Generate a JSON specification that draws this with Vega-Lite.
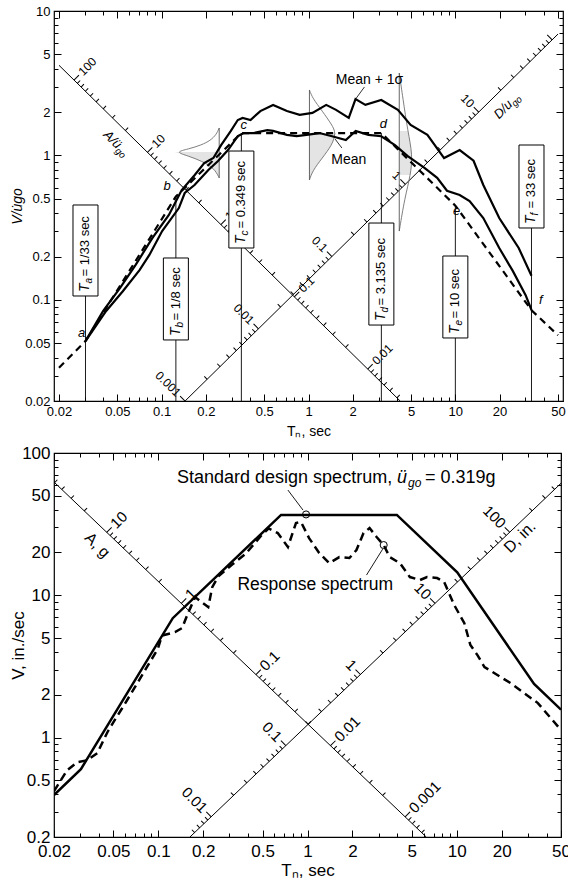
{
  "$schema": "https://vega.github.io/schema/vega-lite/v6.json",
  "padding": {"top": 4, "left": 9, "right": 0, "bottom": 0},
  "spacing": 4,
  "config": {
    "font": "Liberation Sans",
    "view": {"stroke": "black", "strokeWidth": 1.2},
    "mark": {"color": "black"},
    "text": {"color": "black", "font": "Liberation Sans"},
    "axis": {"grid": false, "domain": false, "tickColor": "black", "labelColor": "black", "titleColor": "black", "titleFontWeight": "normal", "labelOverlap": false, "labelFlush": false, "tickWidth": 1, "labelFont": "Liberation Sans", "titleFont": "Liberation Sans"}
  },
  "datasets": {
    "dlines": [
      {"p": "t", "T": 0.02, "V": 4.21, "T2": 4.21, "V2": 0.02},
      {"p": "t", "T": 0.1444, "V": 0.02, "T2": 50, "V2": 6.925},
      {"p": "b", "T": 0.02, "V": 62.5, "T2": 6.25, "V2": 0.2},
      {"p": "b", "T": 0.163, "V": 0.2, "T2": 50, "V2": 61.25}
    ],
    "diag": [
      {"p": "t", "k": "A", "m": 1, "v": [100, 10, 1, 0.1, 0.01]},
      {"p": "t", "k": "A", "m": 0, "v": [90, 80, 70, 60, 50, 40, 30, 20, 9, 8, 7, 6, 5, 4, 3, 2, 0.9, 0.8, 0.7, 0.6, 0.5, 0.4, 0.3, 0.2, 0.09, 0.08, 0.07, 0.06, 0.05, 0.04, 0.03, 0.02, 0.009, 0.008, 0.007, 0.006, 0.005, 0.004]},
      {"p": "t", "k": "D", "m": 1, "v": [0.001, 0.01, 0.1, 1, 10, 100]},
      {"p": "t", "k": "D", "m": 0, "v": [0.002, 0.003, 0.004, 0.005, 0.006, 0.007, 0.008, 0.009, 0.02, 0.03, 0.04, 0.05, 0.06, 0.07, 0.08, 0.09, 0.2, 0.3, 0.4, 0.5, 0.6, 0.7, 0.8, 0.9, 2, 3, 4, 5, 6, 7, 8, 9, 20, 30, 40, 50, 60, 70, 80, 90]},
      {"p": "b", "k": "A", "m": 1, "v": [10, 1, 0.1, 0.01, 0.001]},
      {"p": "b", "k": "A", "m": 0, "v": [50, 40, 30, 20, 9, 8, 7, 6, 5, 4, 3, 2, 0.9, 0.8, 0.7, 0.6, 0.5, 0.4, 0.3, 0.2, 0.09, 0.08, 0.07, 0.06, 0.05, 0.04, 0.03, 0.02, 0.009, 0.008, 0.007, 0.006, 0.005, 0.004, 0.003, 0.002, 0.0009, 0.0008, 0.0007, 0.0006]},
      {"p": "b", "k": "D", "m": 1, "v": [0.01, 0.1, 1, 10, 100]},
      {"p": "b", "k": "D", "m": 0, "v": [0.006, 0.007, 0.008, 0.009, 0.02, 0.03, 0.04, 0.05, 0.06, 0.07, 0.08, 0.09, 0.2, 0.3, 0.4, 0.5, 0.6, 0.7, 0.8, 0.9, 2, 3, 4, 5, 6, 7, 8, 9, 20, 30, 40, 50, 60, 70, 80, 90, 200, 300, 400]}
    ],
    "dlab": [
      {"p": "t", "k": "A", "v": 100, "lab": "100"},
      {"p": "t", "k": "A", "v": 10, "lab": "10"},
      {"p": "t", "k": "A", "v": 1, "lab": "1"},
      {"p": "t", "k": "A", "v": 0.1, "lab": "0.1"},
      {"p": "t", "k": "A", "v": 0.01, "lab": "0.01"},
      {"p": "t", "k": "D", "v": 0.001, "lab": "0.001"},
      {"p": "t", "k": "D", "v": 0.01, "lab": "0.01"},
      {"p": "t", "k": "D", "v": 0.1, "lab": "0.1"},
      {"p": "t", "k": "D", "v": 1, "lab": "1"},
      {"p": "t", "k": "D", "v": 10, "lab": "10"},
      {"p": "b", "k": "A", "v": 10, "lab": "10"},
      {"p": "b", "k": "A", "v": 1, "lab": "1"},
      {"p": "b", "k": "A", "v": 0.1, "lab": "0.1"},
      {"p": "b", "k": "A", "v": 0.01, "lab": "0.01"},
      {"p": "b", "k": "A", "v": 0.001, "lab": "0.001"},
      {"p": "b", "k": "D", "v": 0.01, "lab": "0.01"},
      {"p": "b", "k": "D", "v": 0.1, "lab": "0.1"},
      {"p": "b", "k": "D", "v": 1, "lab": "1"},
      {"p": "b", "k": "D", "v": 10, "lab": "10"},
      {"p": "b", "k": "D", "v": 100, "lab": "100"}
    ],
    "dtitle": [
      {"p": "t", "k": "A", "T": 0.0516, "V": 1.154, "a": "A/ü", "b": "go"},
      {"p": "t", "k": "D", "T": 23.7, "V": 2.33, "a": "D/u", "b": "go"},
      {"p": "b", "k": "A", "T": 0.039, "V": 22.5, "a": "A, g", "b": ""},
      {"p": "b", "k": "D", "T": 26.5, "V": 25.7, "a": "D, in.", "b": ""}
    ],
    "tc": [
      {"s": "i", "T": 0.02, "V": 0.034}, {"s": "i", "T": 0.0303, "V": 0.052}, {"s": "i", "T": 0.125, "V": 0.52}, {"s": "i", "T": 0.349, "V": 1.43}, {"s": "i", "T": 3.135, "V": 1.43}, {"s": "i", "T": 10, "V": 0.45}, {"s": "i", "T": 33, "V": 0.085}, {"s": "i", "T": 50, "V": 0.057},
      {"s": "m1", "T": 0.0303, "V": 0.052}, {"s": "m1", "T": 0.04, "V": 0.084}, {"s": "m1", "T": 0.052, "V": 0.121}, {"s": "m1", "T": 0.0665, "V": 0.175}, {"s": "m1", "T": 0.0864, "V": 0.268}, {"s": "m1", "T": 0.112, "V": 0.388}, {"s": "m1", "T": 0.137, "V": 0.577}, {"s": "m1", "T": 0.168, "V": 0.733}, {"s": "m1", "T": 0.195, "V": 0.887}, {"s": "m1", "T": 0.225, "V": 0.961}, {"s": "m1", "T": 0.254, "V": 1.18}, {"s": "m1", "T": 0.296, "V": 1.48}, {"s": "m1", "T": 0.33, "V": 1.76}, {"s": "m1", "T": 0.356, "V": 1.82}, {"s": "m1", "T": 0.403, "V": 1.76}, {"s": "m1", "T": 0.47, "V": 2.03}, {"s": "m1", "T": 0.574, "V": 2.24}, {"s": "m1", "T": 0.713, "V": 2.03}, {"s": "m1", "T": 0.871, "V": 1.91}, {"s": "m1", "T": 1.064, "V": 1.97}, {"s": "m1", "T": 1.32, "V": 2.24}, {"s": "m1", "T": 1.54, "V": 2.07}, {"s": "m1", "T": 1.88, "V": 1.82}, {"s": "m1", "T": 2.09, "V": 2.46}, {"s": "m1", "T": 2.44, "V": 2.24}, {"s": "m1", "T": 3.13, "V": 2.42}, {"s": "m1", "T": 4.06, "V": 2.07}, {"s": "m1", "T": 4.96, "V": 1.63}, {"s": "m1", "T": 6.45, "V": 1.39}, {"s": "m1", "T": 8.38, "V": 0.96}, {"s": "m1", "T": 10.7, "V": 1.09}, {"s": "m1", "T": 13.3, "V": 0.92}, {"s": "m1", "T": 15.5, "V": 0.625}, {"s": "m1", "T": 19.9, "V": 0.369}, {"s": "m1", "T": 27, "V": 0.229}, {"s": "m1", "T": 33, "V": 0.147},
      {"s": "m", "T": 0.0303, "V": 0.052}, {"s": "m", "T": 0.0419, "V": 0.084}, {"s": "m", "T": 0.0544, "V": 0.115}, {"s": "m", "T": 0.0707, "V": 0.161}, {"s": "m", "T": 0.0825, "V": 0.205}, {"s": "m", "T": 0.1008, "V": 0.3}, {"s": "m", "T": 0.131, "V": 0.433}, {"s": "m", "T": 0.1436, "V": 0.55}, {"s": "m", "T": 0.1675, "V": 0.625}, {"s": "m", "T": 0.208, "V": 0.794}, {"s": "m", "T": 0.242, "V": 0.916}, {"s": "m", "T": 0.283, "V": 1.09}, {"s": "m", "T": 0.33, "V": 1.36}, {"s": "m", "T": 0.362, "V": 1.43}, {"s": "m", "T": 0.422, "V": 1.43}, {"s": "m", "T": 0.524, "V": 1.5}, {"s": "m", "T": 0.574, "V": 1.48}, {"s": "m", "T": 0.713, "V": 1.39}, {"s": "m", "T": 0.831, "V": 1.36}, {"s": "m", "T": 0.97, "V": 1.39}, {"s": "m", "T": 1.185, "V": 1.43}, {"s": "m", "T": 1.447, "V": 1.36}, {"s": "m", "T": 1.796, "V": 1.28}, {"s": "m", "T": 2.094, "V": 1.48}, {"s": "m", "T": 2.56, "V": 1.39}, {"s": "m", "T": 3.13, "V": 1.36}, {"s": "m", "T": 3.88, "V": 1.18}, {"s": "m", "T": 4.74, "V": 0.99}, {"s": "m", "T": 6.16, "V": 0.82}, {"s": "m", "T": 7.52, "V": 0.7}, {"s": "m", "T": 8.77, "V": 0.57}, {"s": "m", "T": 10.7, "V": 0.533}, {"s": "m", "T": 12.5, "V": 0.484}, {"s": "m", "T": 15.5, "V": 0.369}, {"s": "m", "T": 19.9, "V": 0.229}, {"s": "m", "T": 24.6, "V": 0.159}, {"s": "m", "T": 30.1, "V": 0.108}, {"s": "m", "T": 33, "V": 0.0853}
    ],
    "bells": [
      {"g": 1, "i": 0, "T": 0.2466, "V": 1.55, "base": 0.2466, "sh": 0},
      {"g": 1, "i": 1, "T": 0.236, "V": 1.4, "base": 0.2466, "sh": 0},
      {"g": 1, "i": 2, "T": 0.215, "V": 1.27, "base": 0.2466, "sh": 0},
      {"g": 1, "i": 3, "T": 0.1866, "V": 1.182, "base": 0.2466, "sh": 0},
      {"g": 1, "i": 4, "T": 0.1527, "V": 1.109, "base": 0.2466, "sh": 0},
      {"g": 1, "i": 5, "T": 0.1231, "V": 1.057, "base": 0.2466, "sh": 1},
      {"g": 1, "i": 6, "T": 0.1527, "V": 0.992, "base": 0.2466, "sh": 1},
      {"g": 1, "i": 7, "T": 0.1866, "V": 0.916, "base": 0.2466, "sh": 1},
      {"g": 1, "i": 8, "T": 0.228, "V": 0.819, "base": 0.2466, "sh": 1},
      {"g": 1, "i": 9, "T": 0.2466, "V": 0.699, "base": 0.2466, "sh": 1},
      {"g": 2, "i": 0, "T": 1.015, "V": 2.84, "base": 1.015, "sh": 0},
      {"g": 2, "i": 1, "T": 1.064, "V": 2.5, "base": 1.015, "sh": 0},
      {"g": 2, "i": 2, "T": 1.24, "V": 2.032, "base": 1.015, "sh": 0},
      {"g": 2, "i": 3, "T": 1.447, "V": 1.626, "base": 1.015, "sh": 0},
      {"g": 2, "i": 4, "T": 1.539, "V": 1.431, "base": 1.015, "sh": 1},
      {"g": 2, "i": 5, "T": 1.447, "V": 1.182, "base": 1.015, "sh": 1},
      {"g": 2, "i": 6, "T": 1.24, "V": 0.961, "base": 1.015, "sh": 1},
      {"g": 2, "i": 7, "T": 1.064, "V": 0.781, "base": 1.015, "sh": 1},
      {"g": 2, "i": 8, "T": 1.015, "V": 0.677, "base": 1.015, "sh": 1},
      {"g": 3, "i": 0, "T": 4.15, "V": 3.72, "base": 4.15, "sh": 0},
      {"g": 3, "i": 1, "T": 4.39, "V": 2.5, "base": 4.15, "sh": 0},
      {"g": 3, "i": 2, "T": 4.74, "V": 1.48, "base": 4.15, "sh": 1},
      {"g": 3, "i": 3, "T": 5.12, "V": 1.01, "base": 4.15, "sh": 1},
      {"g": 3, "i": 4, "T": 4.96, "V": 0.733, "base": 4.15, "sh": 1},
      {"g": 3, "i": 5, "T": 4.52, "V": 0.508, "base": 4.15, "sh": 0},
      {"g": 3, "i": 6, "T": 4.15, "V": 0.3, "base": 4.15, "sh": 0}
    ],
    "bellbase": [
      {"T": 0.2466, "V": 0.699, "V2": 1.55},
      {"T": 1.015, "V": 0.677, "V2": 2.84},
      {"T": 4.15, "V": 0.3, "V2": 3.72}
    ],
    "tbox": [
      {"k": "a", "T": 0.0303, "lo": 0.1066, "hi": 0.4544, "top": 0.4544, "t": "= 1/33 sec"},
      {"k": "b", "T": 0.125, "lo": 0.0529, "hi": 0.1953, "top": 0.52, "t": "= 1/8 sec"},
      {"k": "c", "T": 0.349, "lo": 0.229, "hi": 1.074, "top": 1.43, "t": "= 0.349 sec"},
      {"k": "d", "T": 3.135, "lo": 0.0671, "hi": 0.341, "top": 1.43, "t": "= 3.135 sec"},
      {"k": "e", "T": 10, "lo": 0.0546, "hi": 0.2016, "top": 0.45, "t": "= 10 sec"},
      {"k": "f", "T": 33, "lo": 0.315, "hi": 1.182, "top": 1.182, "t": "= 33 sec"}
    ],
    "letters": [
      {"l": "a", "T": 0.0285, "V": 0.059},
      {"l": "b", "T": 0.109, "V": 0.615},
      {"l": "c", "T": 0.362, "V": 1.626},
      {"l": "d", "T": 3.23, "V": 1.652},
      {"l": "e", "T": 10.2, "V": 0.413},
      {"l": "f", "T": 38.2, "V": 0.1}
    ],
    "tlab": [
      {"txt": "Mean + 1σ", "T": 2.6, "V": 3.33},
      {"txt": "Mean", "T": 1.88, "V": 0.931}
    ],
    "tlead": [
      {"T": 2.094, "V": 2.46, "T2": 2.404, "V2": 2.98},
      {"T": 1.688, "V": 1.127, "T2": 1.516, "V2": 1.301}
    ],
    "bc": [
      {"s": "d", "T": 0.02, "V": 0.394}, {"s": "d", "T": 0.0303, "V": 0.6}, {"s": "d", "T": 0.125, "V": 6.9}, {"s": "d", "T": 0.665, "V": 36.7}, {"s": "d", "T": 3.97, "V": 36.7}, {"s": "d", "T": 10.08, "V": 14.5}, {"s": "d", "T": 33, "V": 2.38}, {"s": "d", "T": 50, "V": 1.57},
      {"s": "r", "T": 0.02, "V": 0.42}, {"s": "r", "T": 0.0245, "V": 0.59}, {"s": "r", "T": 0.0286, "V": 0.671}, {"s": "r", "T": 0.0334, "V": 0.693}, {"s": "r", "T": 0.039, "V": 0.776}, {"s": "r", "T": 0.0456, "V": 1.09}, {"s": "r", "T": 0.0509, "V": 1.32}, {"s": "r", "T": 0.0567, "V": 1.58}, {"s": "r", "T": 0.0694, "V": 2.24}, {"s": "r", "T": 0.085, "V": 3.2}, {"s": "r", "T": 0.0993, "V": 4.2}, {"s": "r", "T": 0.1057, "V": 5.2}, {"s": "r", "T": 0.1294, "V": 5.51}, {"s": "r", "T": 0.1443, "V": 5.88}, {"s": "r", "T": 0.1583, "V": 7.5}, {"s": "r", "T": 0.1766, "V": 9.71}, {"s": "r", "T": 0.2162, "V": 8.26}, {"s": "r", "T": 0.23, "V": 11.42}, {"s": "r", "T": 0.2526, "V": 13.6}, {"s": "r", "T": 0.314, "V": 16.5}, {"s": "r", "T": 0.384, "V": 19.5}, {"s": "r", "T": 0.501, "V": 27}, {"s": "r", "T": 0.55, "V": 29.5}, {"s": "r", "T": 0.632, "V": 27.36}, {"s": "r", "T": 0.739, "V": 21.83}, {"s": "r", "T": 0.837, "V": 32.19}, {"s": "r", "T": 0.905, "V": 32.72}, {"s": "r", "T": 1.025, "V": 25.23}, {"s": "r", "T": 1.197, "V": 19.82}, {"s": "r", "T": 1.399, "V": 16.84}, {"s": "r", "T": 1.634, "V": 18.56}, {"s": "r", "T": 1.909, "V": 18.27}, {"s": "r", "T": 2.128, "V": 20.8}, {"s": "r", "T": 2.374, "V": 27.36}, {"s": "r", "T": 2.606, "V": 29.69}, {"s": "r", "T": 2.906, "V": 25.65}, {"s": "r", "T": 3.24, "V": 22.54}, {"s": "r", "T": 3.556, "V": 18.56}, {"s": "r", "T": 4.156, "V": 16.84}, {"s": "r", "T": 4.854, "V": 13.43}, {"s": "r", "T": 5.672, "V": 12.8}, {"s": "r", "T": 6.325, "V": 13.43}, {"s": "r", "T": 7.391, "V": 13.21}, {"s": "r", "T": 8.24, "V": 12.4}, {"s": "r", "T": 9.628, "V": 8.53}, {"s": "r", "T": 11.25, "V": 6.37}, {"s": "r", "T": 12.35, "V": 4.47}, {"s": "r", "T": 13.77, "V": 3.8}, {"s": "r", "T": 15.35, "V": 3.13}, {"s": "r", "T": 23, "V": 2.41}, {"s": "r", "T": 35, "V": 1.746}, {"s": "r", "T": 50, "V": 1.13}
    ],
    "bcirc": [
      {"T": 0.978, "V": 37},
      {"T": 3.24, "V": 22.54}
    ],
    "blead": [
      {"T": 0.739, "V": 54.9, "T2": 0.933, "V2": 39.7},
      {"T": 2.486, "V": 13.87, "T2": 3.19, "V2": 21.1}
    ],
    "banno": [
      {"id": "std", "T": 0.1335, "V": 66.7},
      {"id": "resp", "T": 0.339, "V": 11.8}
    ],
    "anchor": [
      {"T": 1, "V": 1}
    ]
  },
  "vconcat": [
    {
      "width": 509,
      "height": 390,
      "resolve": {"axis": {"x": "independent", "y": "independent"}},
      "layer": [
        {
          "layer": [
            {
              "data": {"name": "dlines"},
              "transform": [{"filter": "datum.p=='t'"}],
              "mark": {"type": "rule", "strokeWidth": 1, "clip": true},
              "encoding": {
                "x": {"field": "T", "type": "quantitative", "scale": {"type": "log", "domain": [0.02, 50], "nice": false},
                  "axis": {"orient": "bottom", "title": "Tₙ, sec", "format": "~g",
                    "values": [0.02, 0.03, 0.04, 0.05, 0.06, 0.07, 0.08, 0.09, 0.1, 0.2, 0.3, 0.4, 0.5, 0.6, 0.7, 0.8, 0.9, 1, 2, 3, 4, 5, 6, 7, 8, 9, 10, 20, 30, 40, 50],
                    "labelExpr": "indexof([0.02,0.05,0.1,0.2,0.5,1,2,5,10,20,50], datum.value) >= 0 ? datum.label : ''",
                    "tickSize": {"condition": {"test": "indexof([0.02,0.05,0.1,0.2,0.5,1,2,5,10,20,50], datum.value) >= 0", "value": -7}, "value": -4},
                    "labelPadding": 11, "labelFontSize": 13, "titleFontSize": 14, "titlePadding": 3}},
                "y": {"field": "V", "type": "quantitative", "scale": {"type": "log", "domain": [0.02, 10], "nice": false},
                  "axis": {"orient": "left", "title": "V/u̇go", "titleFontStyle": "italic", "format": "~g",
                    "values": [0.02, 0.03, 0.04, 0.05, 0.06, 0.07, 0.08, 0.09, 0.1, 0.2, 0.3, 0.4, 0.5, 0.6, 0.7, 0.8, 0.9, 1, 2, 3, 4, 5, 6, 7, 8, 9, 10],
                    "labelExpr": "indexof([0.02,0.05,0.1,0.2,0.5,1,2,5,10], datum.value) >= 0 ? datum.label : ''",
                    "tickSize": {"condition": {"test": "indexof([0.02,0.05,0.1,0.2,0.5,1,2,5,10], datum.value) >= 0", "value": -7}, "value": -4},
                    "labelPadding": 11, "labelFontSize": 13, "titleFontSize": 14, "titlePadding": 0}},
                "x2": {"field": "T2"},
                "y2": {"field": "V2"}
              }
            },
            {
              "data": {"name": "diag"},
              "transform": [
                {"filter": "datum.p=='t'"},
                {"flatten": ["v"]},
                {"calculate": "datum.p=='t' ? (datum.k=='A' ? sqrt(0.064/datum.v) : sqrt(datum.v/0.048)) : (datum.k=='A' ? sqrt(0.02034/datum.v) : sqrt(datum.v/0.195))", "as": "T"},
                {"calculate": "datum.p=='t' ? (datum.k=='A' ? 0.0842/datum.T : 0.1385*datum.T) : (datum.k=='A' ? 1.25/datum.T : 1.225*datum.T)", "as": "V"},
                {"filter": "datum.T >= 0.02 && datum.T <= 50 && datum.V >= 0.0199 && datum.V <= 10"}
              ],
              "mark": {"type": "point", "shape": "M0,0L1,0", "filled": false, "strokeWidth": 1, "opacity": 1, "clip": true},
              "encoding": {
                "x": {"field": "T", "type": "quantitative"},
                "y": {"field": "V", "type": "quantitative"},
                "size": {"condition": {"test": "datum.m == 1", "value": 196}, "value": 64},
                "angle": {"condition": {"test": "datum.k == 'A'", "value": 315}, "value": 225}
              }
            },
            {
              "data": {"name": "dlab"},
              "transform": [
                {"filter": "datum.p=='t' && datum.k=='A'"},
                {"calculate": "sqrt(0.064/datum.v)", "as": "T"},
                {"calculate": "0.0842/datum.T", "as": "V"}
              ],
              "mark": {"type": "text", "angle": 315, "align": "left", "baseline": "middle", "dx": 9, "fontSize": 12},
              "encoding": {"x": {"field": "T", "type": "quantitative"}, "y": {"field": "V", "type": "quantitative"}, "text": {"field": "lab"}}
            },
            {
              "data": {"name": "dlab"},
              "transform": [
                {"filter": "datum.p=='t' && datum.k=='D'"},
                {"calculate": "sqrt(datum.v/0.048)", "as": "T"},
                {"calculate": "0.1385*datum.T", "as": "V"}
              ],
              "mark": {"type": "text", "angle": 45, "align": "right", "baseline": "middle", "dx": -9, "fontSize": 12},
              "encoding": {"x": {"field": "T", "type": "quantitative"}, "y": {"field": "V", "type": "quantitative"}, "text": {"field": "lab"}}
            },
            {
              "data": {"name": "dtitle"},
              "transform": [{"filter": "datum.p=='t'"}],
              "mark": {"type": "text", "align": "right", "baseline": "middle", "fontSize": 13, "fontStyle": "italic"},
              "encoding": {"x": {"field": "T", "type": "quantitative"}, "y": {"field": "V", "type": "quantitative"}, "text": {"field": "a"},
                "angle": {"condition": {"test": "datum.k == 'A'", "value": 45}, "value": 315}}
            },
            {
              "data": {"name": "dtitle"},
              "transform": [{"filter": "datum.p=='t'"}],
              "mark": {"type": "text", "align": "left", "baseline": "middle", "dy": 4, "fontSize": 9.5, "fontStyle": "italic"},
              "encoding": {"x": {"field": "T", "type": "quantitative"}, "y": {"field": "V", "type": "quantitative"}, "text": {"field": "b"},
                "angle": {"condition": {"test": "datum.k == 'A'", "value": 45}, "value": 315}}
            },
            {
              "data": {"name": "bells"},
              "transform": [{"filter": "datum.sh == 1"}],
              "mark": {"type": "area", "orient": "horizontal", "color": "#c4c4c4", "opacity": 0.45, "interpolate": "basis"},
              "encoding": {"y": {"field": "V", "type": "quantitative"}, "x": {"field": "T", "type": "quantitative"}, "x2": {"field": "base"}, "detail": {"field": "g", "type": "nominal"}}
            },
            {
              "data": {"name": "bells"},
              "mark": {"type": "line", "interpolate": "basis", "color": "#707070", "strokeWidth": 0.9},
              "encoding": {"x": {"field": "T", "type": "quantitative"}, "y": {"field": "V", "type": "quantitative"}, "order": {"field": "i", "type": "quantitative"}, "detail": {"field": "g", "type": "nominal"}}
            },
            {
              "data": {"name": "bellbase"},
              "mark": {"type": "rule", "color": "#555", "strokeWidth": 0.9},
              "encoding": {"x": {"field": "T", "type": "quantitative"}, "y": {"field": "V", "type": "quantitative"}, "y2": {"field": "V2"}}
            },
            {
              "data": {"name": "tbox"},
              "mark": {"type": "rule", "strokeWidth": 0.9},
              "encoding": {"x": {"field": "T", "type": "quantitative"}, "y": {"field": "top", "type": "quantitative"}, "y2": {"value": "height"}}
            },
            {
              "data": {"name": "tbox"},
              "mark": {"type": "bar", "orient": "vertical", "width": 25, "fill": "white", "stroke": "black", "strokeWidth": 1},
              "encoding": {"x": {"field": "T", "type": "quantitative"}, "y": {"field": "lo", "type": "quantitative"}, "y2": {"field": "hi"}}
            },
            {
              "data": {"name": "tbox"},
              "mark": {"type": "text", "angle": 270, "align": "left", "baseline": "middle", "dx": 4, "fontSize": 14, "fontStyle": "italic"},
              "encoding": {"x": {"field": "T", "type": "quantitative"}, "y": {"field": "lo", "type": "quantitative"}, "text": {"value": "T"}}
            },
            {
              "data": {"name": "tbox"},
              "mark": {"type": "text", "angle": 270, "align": "left", "baseline": "middle", "dx": 12.5, "dy": 4, "fontSize": 10, "fontStyle": "italic"},
              "encoding": {"x": {"field": "T", "type": "quantitative"}, "y": {"field": "lo", "type": "quantitative"}, "text": {"field": "k"}}
            },
            {
              "data": {"name": "tbox"},
              "mark": {"type": "text", "angle": 270, "align": "left", "baseline": "middle", "dx": 19.5, "fontSize": 13},
              "encoding": {"x": {"field": "T", "type": "quantitative"}, "y": {"field": "lo", "type": "quantitative"}, "text": {"field": "t"}}
            },
            {
              "data": {"name": "tc"},
              "transform": [{"filter": "datum.s == 'i'"}],
              "mark": {"type": "line", "strokeWidth": 2.2, "strokeDash": [7, 5], "clip": true},
              "encoding": {"x": {"field": "T", "type": "quantitative"}, "y": {"field": "V", "type": "quantitative"}}
            },
            {
              "data": {"name": "tc"},
              "transform": [{"filter": "datum.s == 'm1'"}],
              "mark": {"type": "line", "strokeWidth": 2.2, "clip": true},
              "encoding": {"x": {"field": "T", "type": "quantitative"}, "y": {"field": "V", "type": "quantitative"}}
            },
            {
              "data": {"name": "tc"},
              "transform": [{"filter": "datum.s == 'm'"}],
              "mark": {"type": "line", "strokeWidth": 2.2, "clip": true},
              "encoding": {"x": {"field": "T", "type": "quantitative"}, "y": {"field": "V", "type": "quantitative"}}
            },
            {
              "data": {"name": "letters"},
              "mark": {"type": "text", "fontSize": 13, "fontStyle": "italic", "align": "center", "baseline": "middle"},
              "encoding": {"x": {"field": "T", "type": "quantitative"}, "y": {"field": "V", "type": "quantitative"}, "text": {"field": "l"}}
            },
            {
              "data": {"name": "tlab"},
              "mark": {"type": "text", "fontSize": 14, "align": "center", "baseline": "middle"},
              "encoding": {"x": {"field": "T", "type": "quantitative"}, "y": {"field": "V", "type": "quantitative"}, "text": {"field": "txt"}}
            },
            {
              "data": {"name": "tlead"},
              "mark": {"type": "rule", "strokeWidth": 0.8},
              "encoding": {"x": {"field": "T", "type": "quantitative"}, "y": {"field": "V", "type": "quantitative"}, "x2": {"field": "T2"}, "y2": {"field": "V2"}}
            }
          ]
        },
        {
          "data": {"name": "anchor"},
          "mark": {"type": "point", "opacity": 0},
          "encoding": {
            "x": {"field": "T", "type": "quantitative",
              "axis": {"orient": "top", "title": null, "labels": false,
                "values": [0.02, 0.03, 0.04, 0.05, 0.06, 0.07, 0.08, 0.09, 0.1, 0.2, 0.3, 0.4, 0.5, 0.6, 0.7, 0.8, 0.9, 1, 2, 3, 4, 5, 6, 7, 8, 9, 10, 20, 30, 40, 50],
                "tickSize": {"condition": {"test": "indexof([0.02,0.05,0.1,0.2,0.5,1,2,5,10,20,50], datum.value) >= 0", "value": -7}, "value": -4}}},
            "y": {"field": "V", "type": "quantitative",
              "axis": {"orient": "right", "title": null, "labels": false,
                "values": [0.02, 0.03, 0.04, 0.05, 0.06, 0.07, 0.08, 0.09, 0.1, 0.2, 0.3, 0.4, 0.5, 0.6, 0.7, 0.8, 0.9, 1, 2, 3, 4, 5, 6, 7, 8, 9, 10],
                "tickSize": {"condition": {"test": "indexof([0.02,0.05,0.1,0.2,0.5,1,2,5,10], datum.value) >= 0", "value": -7}, "value": -4}}}
          }
        }
      ]
    },
    {
      "width": 507,
      "height": 384,
      "resolve": {"axis": {"x": "independent", "y": "independent"}},
      "layer": [
        {
          "layer": [
            {
              "data": {"name": "dlines"},
              "transform": [{"filter": "datum.p=='b'"}],
              "mark": {"type": "rule", "strokeWidth": 1, "clip": true},
              "encoding": {
                "x": {"field": "T", "type": "quantitative", "scale": {"type": "log", "domain": [0.02, 50], "nice": false},
                  "axis": {"orient": "bottom", "title": "Tₙ, sec", "format": "~g",
                    "values": [0.02, 0.03, 0.04, 0.05, 0.06, 0.07, 0.08, 0.09, 0.1, 0.2, 0.3, 0.4, 0.5, 0.6, 0.7, 0.8, 0.9, 1, 2, 3, 4, 5, 6, 7, 8, 9, 10, 20, 30, 40, 50],
                    "labelExpr": "indexof([0.02,0.05,0.1,0.2,0.5,1,2,5,10,20,50], datum.value) >= 0 ? datum.label : ''",
                    "tickSize": {"condition": {"test": "indexof([0.02,0.05,0.1,0.2,0.5,1,2,5,10,20,50], datum.value) >= 0", "value": -7}, "value": -4},
                    "labelPadding": 13, "labelFontSize": 17, "titleFontSize": 17, "titlePadding": 0}},
                "y": {"field": "V", "type": "quantitative", "scale": {"type": "log", "domain": [0.2, 100], "nice": false},
                  "axis": {"orient": "left", "title": "V, in./sec", "format": "~g",
                    "values": [0.2, 0.3, 0.4, 0.5, 0.6, 0.7, 0.8, 0.9, 1, 2, 3, 4, 5, 6, 7, 8, 9, 10, 20, 30, 40, 50, 60, 70, 80, 90, 100],
                    "labelExpr": "indexof([0.2,0.5,1,2,5,10,20,50,100], datum.value) >= 0 ? datum.label : ''",
                    "tickSize": {"condition": {"test": "indexof([0.2,0.5,1,2,5,10,20,50,100], datum.value) >= 0", "value": -7}, "value": -4},
                    "labelPadding": 11, "labelFontSize": 17, "titleFontSize": 17, "titlePadding": -6}},
                "x2": {"field": "T2"},
                "y2": {"field": "V2"}
              }
            },
            {
              "data": {"name": "diag"},
              "transform": [
                {"filter": "datum.p=='b'"},
                {"flatten": ["v"]},
                {"calculate": "datum.p=='t' ? (datum.k=='A' ? sqrt(0.064/datum.v) : sqrt(datum.v/0.048)) : (datum.k=='A' ? sqrt(0.02034/datum.v) : sqrt(datum.v/0.195))", "as": "T"},
                {"calculate": "datum.p=='t' ? (datum.k=='A' ? 0.0842/datum.T : 0.1385*datum.T) : (datum.k=='A' ? 1.25/datum.T : 1.225*datum.T)", "as": "V"},
                {"filter": "datum.T >= 0.02 && datum.T <= 50 && datum.V >= 0.199 && datum.V <= 100"}
              ],
              "mark": {"type": "point", "shape": "M0,0L1,0", "filled": false, "strokeWidth": 1, "opacity": 1, "clip": true},
              "encoding": {
                "x": {"field": "T", "type": "quantitative"},
                "y": {"field": "V", "type": "quantitative"},
                "size": {"condition": {"test": "datum.m == 1", "value": 196}, "value": 64},
                "angle": {"condition": {"test": "datum.k == 'A'", "value": 315}, "value": 225}
              }
            },
            {
              "data": {"name": "dlab"},
              "transform": [
                {"filter": "datum.p=='b' && datum.k=='A'"},
                {"calculate": "sqrt(0.02034/datum.v)", "as": "T"},
                {"calculate": "1.25/datum.T", "as": "V"}
              ],
              "mark": {"type": "text", "angle": 315, "align": "left", "baseline": "middle", "dx": 9, "fontSize": 15},
              "encoding": {"x": {"field": "T", "type": "quantitative"}, "y": {"field": "V", "type": "quantitative"}, "text": {"field": "lab"}}
            },
            {
              "data": {"name": "dlab"},
              "transform": [
                {"filter": "datum.p=='b' && datum.k=='D'"},
                {"calculate": "sqrt(datum.v/0.195)", "as": "T"},
                {"calculate": "1.225*datum.T", "as": "V"}
              ],
              "mark": {"type": "text", "angle": 45, "align": "right", "baseline": "middle", "dx": -9, "fontSize": 15},
              "encoding": {"x": {"field": "T", "type": "quantitative"}, "y": {"field": "V", "type": "quantitative"}, "text": {"field": "lab"}}
            },
            {
              "data": {"name": "dtitle"},
              "transform": [{"filter": "datum.p=='b'"}],
              "mark": {"type": "text", "align": "center", "baseline": "middle", "fontSize": 16},
              "encoding": {"x": {"field": "T", "type": "quantitative"}, "y": {"field": "V", "type": "quantitative"}, "text": {"field": "a"},
                "angle": {"condition": {"test": "datum.k == 'A'", "value": 45}, "value": 315}}
            },
            {
              "data": {"name": "bc"},
              "transform": [{"filter": "datum.s == 'd'"}],
              "mark": {"type": "line", "strokeWidth": 2.5, "clip": true},
              "encoding": {"x": {"field": "T", "type": "quantitative"}, "y": {"field": "V", "type": "quantitative"}}
            },
            {
              "data": {"name": "bc"},
              "transform": [{"filter": "datum.s == 'r'"}],
              "mark": {"type": "line", "strokeWidth": 2.5, "strokeDash": [8, 5], "clip": true},
              "encoding": {"x": {"field": "T", "type": "quantitative"}, "y": {"field": "V", "type": "quantitative"}}
            },
            {
              "data": {"name": "bcirc"},
              "mark": {"type": "point", "shape": "circle", "filled": false, "size": 50, "strokeWidth": 1, "opacity": 1},
              "encoding": {"x": {"field": "T", "type": "quantitative"}, "y": {"field": "V", "type": "quantitative"}}
            },
            {
              "data": {"name": "blead"},
              "mark": {"type": "rule", "strokeWidth": 0.9},
              "encoding": {"x": {"field": "T", "type": "quantitative"}, "y": {"field": "V", "type": "quantitative"}, "x2": {"field": "T2"}, "y2": {"field": "V2"}}
            },
            {
              "data": {"name": "banno"},
              "transform": [{"filter": "datum.id == 'std'"}],
              "mark": {"type": "text", "align": "left", "baseline": "middle", "fontSize": 18},
              "encoding": {"x": {"field": "T", "type": "quantitative"}, "y": {"field": "V", "type": "quantitative"}, "text": {"value": "Standard design spectrum,"}}
            },
            {
              "data": {"name": "banno"},
              "transform": [{"filter": "datum.id == 'std'"}],
              "mark": {"type": "text", "align": "left", "baseline": "middle", "fontSize": 18, "fontStyle": "italic", "dx": 220},
              "encoding": {"x": {"field": "T", "type": "quantitative"}, "y": {"field": "V", "type": "quantitative"}, "text": {"value": "ü"}}
            },
            {
              "data": {"name": "banno"},
              "transform": [{"filter": "datum.id == 'std'"}],
              "mark": {"type": "text", "align": "left", "baseline": "middle", "fontSize": 12, "fontStyle": "italic", "dx": 231, "dy": 5},
              "encoding": {"x": {"field": "T", "type": "quantitative"}, "y": {"field": "V", "type": "quantitative"}, "text": {"value": "go"}}
            },
            {
              "data": {"name": "banno"},
              "transform": [{"filter": "datum.id == 'std'"}],
              "mark": {"type": "text", "align": "left", "baseline": "middle", "fontSize": 18, "dx": 248},
              "encoding": {"x": {"field": "T", "type": "quantitative"}, "y": {"field": "V", "type": "quantitative"}, "text": {"value": "= 0.319g"}}
            },
            {
              "data": {"name": "banno"},
              "transform": [{"filter": "datum.id == 'resp'"}],
              "mark": {"type": "text", "align": "left", "baseline": "middle", "fontSize": 17.5},
              "encoding": {"x": {"field": "T", "type": "quantitative"}, "y": {"field": "V", "type": "quantitative"}, "text": {"value": "Response spectrum"}}
            }
          ]
        },
        {
          "data": {"name": "anchor"},
          "mark": {"type": "point", "opacity": 0},
          "encoding": {
            "x": {"field": "T", "type": "quantitative",
              "axis": {"orient": "top", "title": null, "labels": false,
                "values": [0.02, 0.03, 0.04, 0.05, 0.06, 0.07, 0.08, 0.09, 0.1, 0.2, 0.3, 0.4, 0.5, 0.6, 0.7, 0.8, 0.9, 1, 2, 3, 4, 5, 6, 7, 8, 9, 10, 20, 30, 40, 50],
                "tickSize": {"condition": {"test": "indexof([0.02,0.05,0.1,0.2,0.5,1,2,5,10,20,50], datum.value) >= 0", "value": -7}, "value": -4}}},
            "y": {"field": "V", "type": "quantitative",
              "axis": {"orient": "right", "title": null, "labels": false,
                "values": [0.2, 0.3, 0.4, 0.5, 0.6, 0.7, 0.8, 0.9, 1, 2, 3, 4, 5, 6, 7, 8, 9, 10, 20, 30, 40, 50, 60, 70, 80, 90, 100],
                "tickSize": {"condition": {"test": "indexof([0.2,0.5,1,2,5,10,20,50,100], datum.value) >= 0", "value": -7}, "value": -4}}}
          }
        }
      ]
    }
  ]
}
